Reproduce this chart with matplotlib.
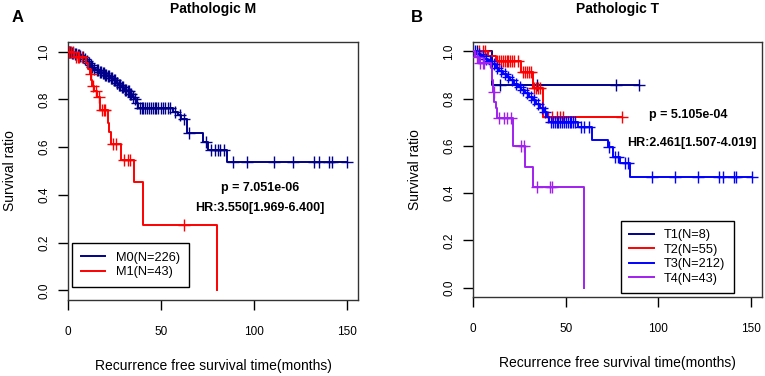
import numpy as np
import matplotlib
matplotlib.use("Agg")
import matplotlib.pyplot as plt

plt.rcParams['font.family'] = ['Liberation Sans', 'DejaVu Sans']

# ---------------- data ----------------
# Panel A: Pathologic M
m0_times = [1.5, 3, 4.5, 6, 7, 8.5, 9.5, 10.5, 11.5, 12.5, 13.5, 15, 16.5, 18, 19.5,
            21, 22.5, 24, 25.5, 27, 28.5, 30, 31.5, 33, 34.5, 35.5, 36.5, 37.7,
            56.5, 59, 61, 64, 72.5, 75.5, 85.5]
m0_surv = [0.996, 0.991, 0.987, 0.982, 0.977, 0.968, 0.960, 0.953, 0.945, 0.937, 0.928,
           0.922, 0.916, 0.910, 0.903, 0.897, 0.889, 0.880, 0.870, 0.860, 0.850, 0.840,
           0.833, 0.822, 0.810, 0.800, 0.785, 0.763,
           0.748, 0.733, 0.718, 0.657, 0.622, 0.588, 0.537]
m0_cens = [0.5, 1, 2, 2.5, 3.5, 4, 5, 5.5, 6.5, 8, 9, 10, 11, 12, 13, 14, 15.5, 16, 17,
           17.5, 18.5, 19, 20, 20.5, 21.5, 22, 23, 23.5, 24.5, 25, 26, 26.5, 27.5, 28,
           29, 29.5, 30.5, 31, 32, 32.5, 33.5, 34, 35, 36, 37, 38.5, 39.5, 40.5, 41.5,
           42.5, 43.5, 44.5, 45.5, 46.5, 47.5, 48.5, 50, 51, 52, 53.5, 55, 57.5, 60,
           62.5, 65, 74, 77, 79, 80.5, 82, 84, 89, 96.5, 111, 121.3, 132.6, 134.9,
           140.6, 141.9, 150.3]

m1_times = [3, 9.5, 10.5, 11.5, 12.3, 13, 14, 15.5, 17, 21.5, 22, 23, 28.5, 35.5, 40.4, 79.9]
m1_surv = [0.977, 0.953, 0.929, 0.905, 0.881, 0.857, 0.833, 0.808, 0.757, 0.70, 0.665,
           0.612, 0.545, 0.452, 0.272, 0.0]
m1_cens = [0.5, 1.5, 2.5, 4, 5, 6, 7.5, 12, 13.5, 15, 16.5, 18, 19, 20, 24, 25.5, 30,
           32, 33.5, 62.5]

# Panel B: Pathologic T
t1_times = [9.9]
t1_surv = [0.857]
t1_cens = [2, 14.4, 34.2, 76.9, 89.5]

t2_times = [8, 12, 26, 32.5, 37.8]
t2_surv = [0.981, 0.961, 0.915, 0.846, 0.724]
t2_cens = [3, 5, 6.5, 13, 14, 15, 16, 17, 18, 19, 20, 21, 22, 24, 27, 28, 29, 30, 31,
           33, 34, 35, 36, 40.5, 42.3, 45, 46.8, 48.6, 80.5]

t3_times = [2, 4, 6, 8, 10, 12, 14, 16, 18, 20, 22, 24, 26, 28, 30, 32, 34, 36, 38, 40,
            41, 56.7, 64, 73, 75.6, 79.3, 84.7]
t3_surv = [0.990, 0.980, 0.970, 0.958, 0.945, 0.932, 0.918, 0.905, 0.890, 0.877, 0.864,
           0.850, 0.837, 0.823, 0.808, 0.793, 0.778, 0.762, 0.745, 0.722, 0.700,
           0.680, 0.623, 0.595, 0.553, 0.526, 0.470]
t3_cens = [1, 3, 5, 7, 9, 11, 13, 15, 17, 19, 21, 23, 25, 27, 29, 31, 33, 35, 37, 39,
           42, 43, 44, 45, 46, 47, 48, 49, 50, 51, 52, 53, 54, 55, 58, 60, 62.5, 73.5,
           76.5, 78, 82, 83.5, 96.4, 109, 121.4, 133, 135, 141, 142, 150.4]

t4_times = [1, 3, 9.8, 10.3, 10.8, 11.3, 12, 12.6, 21.3, 27.9, 32.1, 60]
t4_surv = [0.977, 0.953, 0.929, 0.880, 0.830, 0.785, 0.760, 0.718, 0.598, 0.512, 0.428, 0.0]
t4_cens = [2, 3.5, 5, 6, 11, 13.9, 16.6, 18.4, 20.2, 25.7, 27.5, 34.2, 41.4, 42.3]

legend_a = ["M0(N=226)", "M1(N=43)"]
legend_b = ["T1(N=8)", "T2(N=55)", "T3(N=212)", "T4(N=43)"]

NAVY = "#00008B"
RED = "#FF0000"
BLUE = "#0000FF"
PURPLE = "#A020F0"


def km(ax, times, surv, cens, color, label):
    t = np.array(times, float)
    s = np.array(surv, float)
    c = np.array(cens, float)
    end = max(t.max(), c.max() if len(c) else 0)
    xs = np.concatenate([[0], t, [end]])
    ys = np.concatenate([[1.0], s, [s[-1]]])
    ax.step(xs, ys, where='post', color=color, lw=1.4, label=label, zorder=3)
    idx = np.searchsorted(t, c, side='right')
    cy = np.where(idx == 0, 1.0, s[np.maximum(idx - 1, 0)])
    ax.plot(c, cy, ls='none', marker='+', ms=8.5, mew=1.0, color=color, zorder=3)


fig = plt.figure(figsize=(7.65, 3.76), dpi=100)
W, H = 765, 376


def make_axes(x0, x1, ytop, ybot):
    return fig.add_axes([x0 / W, 1 - ybot / H, (x1 - x0) / W, (ybot - ytop) / H])


axA = make_axes(68.3, 357.7, 42, 300)
axB = make_axes(473.3, 762.0, 42, 297)

km(axA, m0_times, m0_surv, m0_cens, NAVY, legend_a[0])
km(axA, m1_times, m1_surv, m1_cens, RED, legend_a[1])

km(axB, t1_times, t1_surv, t1_cens, NAVY, legend_b[0])
km(axB, t2_times, t2_surv, t2_cens, RED, legend_b[1])
km(axB, t3_times, t3_surv, t3_cens, BLUE, legend_b[2])
km(axB, t4_times, t4_surv, t4_cens, PURPLE, legend_b[3])

for ax in (axA, axB):
    ax.set_xlim(0, 156)
    ax.set_ylim(-0.04, 1.04)
    ax.set_xticks([0, 50, 100, 150])
    ax.set_yticks([0.0, 0.2, 0.4, 0.6, 0.8, 1.0])
    ax.set_yticklabels(["0.0", "0.2", "0.4", "0.6", "0.8", "1.0"])
    ax.tick_params(axis='x', length=7, width=1, pad=12, labelsize=8.5, colors='black')
    ax.tick_params(axis='y', length=7, width=1, pad=6, labelsize=8.5, labelrotation=90)
    for lab in ax.get_yticklabels():
        lab.set_va('center')
    for sp in ax.spines.values():
        sp.set_linewidth(1.0)
        sp.set_color('#333333')
    ax.set_ylabel("Survival ratio", fontsize=10, labelpad=15)
    ax.set_xlabel("Recurrence free survival time(months)", fontsize=10, labelpad=15)

fig.text(213 / W, 1 - 9 / H, "Pathologic M", fontsize=10, fontweight='bold',
         ha='center', va='center')
fig.text(618 / W, 1 - 9 / H, "Pathologic T", fontsize=10, fontweight='bold',
         ha='center', va='center')
fig.text(18 / W, 1 - 17 / H, "A", fontsize=12, fontweight='bold', ha='center', va='center')
fig.text(417 / W, 1 - 17 / H, "B", fontsize=12, fontweight='bold', ha='center', va='center')

fig.text(260 / W, 1 - 188 / H, "p = 7.051e-06", fontsize=9, fontweight='bold',
         ha='center', va='center')
fig.text(260 / W, 1 - 208 / H, "HR:3.550[1.969-6.400]", fontsize=9, fontweight='bold',
         ha='center', va='center')
fig.text(688 / W, 1 - 115 / H, "p = 5.105e-04", fontsize=9, fontweight='bold',
         ha='center', va='center')
fig.text(692 / W, 1 - 143 / H, "HR:2.461[1.507-4.019]", fontsize=9, fontweight='bold',
         ha='center', va='center')

lgA = axA.legend(loc='lower left', bbox_to_anchor=(0.013, 0.05), fontsize=9.2,
                 frameon=True, fancybox=False, edgecolor='black', framealpha=1,
                 handlelength=1.9, handletextpad=0.8, borderpad=0.7, labelspacing=0.2,
                 borderaxespad=0)
lgA.get_frame().set_linewidth(1.0)
lgB = axB.legend(loc='lower left', bbox_to_anchor=(0.512, 0.015), fontsize=9.2,
                 frameon=True, fancybox=False, edgecolor='black', framealpha=1,
                 handlelength=1.9, handletextpad=0.8, borderpad=0.65, labelspacing=0.2,
                 borderaxespad=0)
lgB.get_frame().set_linewidth(1.0)

fig.savefig("out.png", dpi=100)
